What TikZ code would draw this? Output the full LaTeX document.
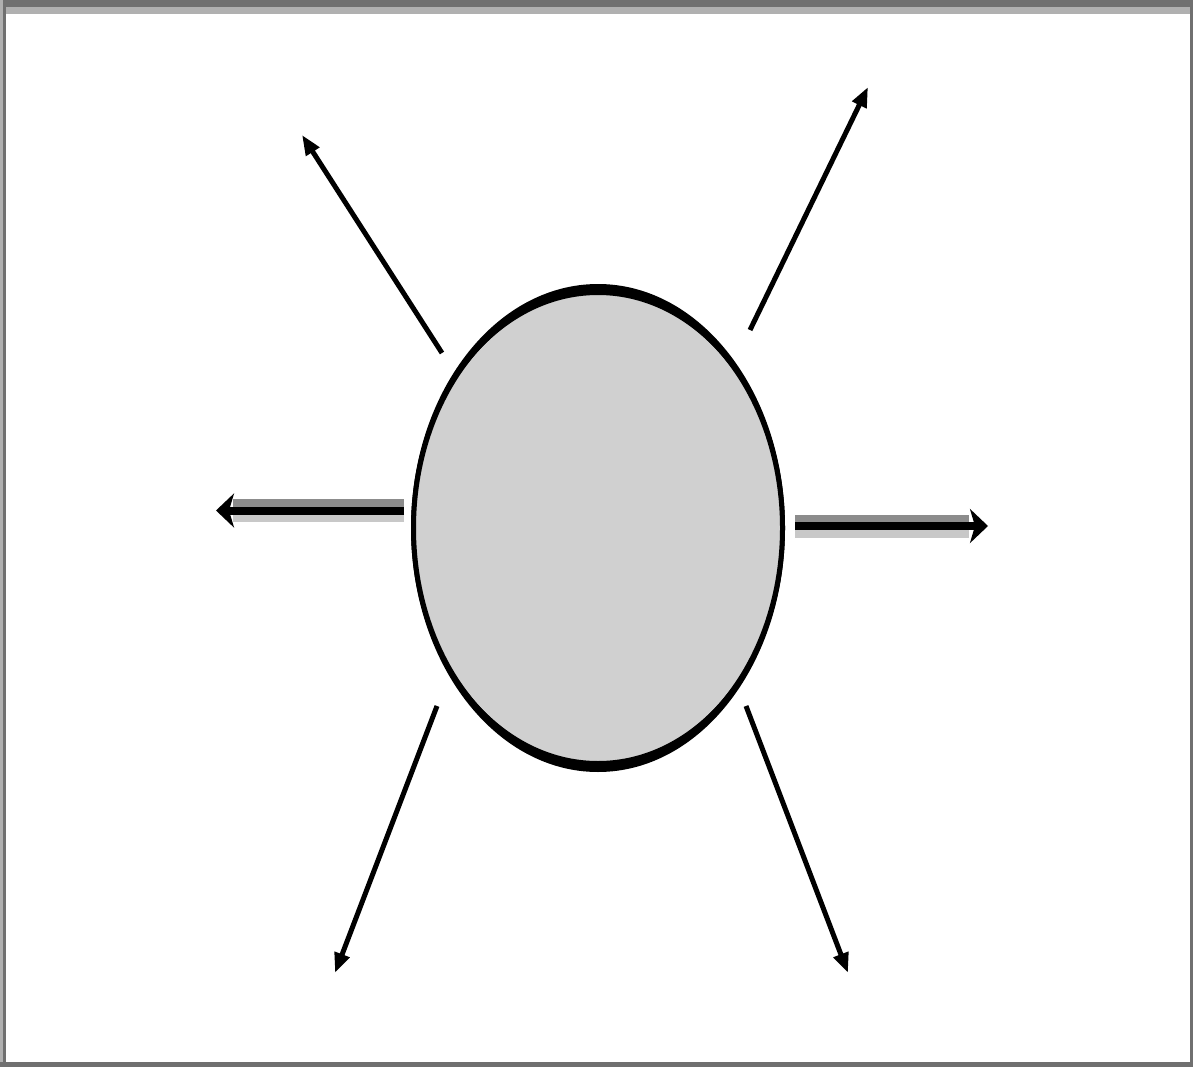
\documentclass[tikz,border=0pt]{standalone}
\usetikzlibrary{shapes.geometric,arrows.meta}
\definecolor{framedark}{HTML}{707070}
\definecolor{framelight}{HTML}{B0B0B0}
\definecolor{bodygray}{HTML}{D0D0D0}
\definecolor{shadowup}{HTML}{8C8C8C}
\definecolor{shadowdown}{HTML}{C8C8C8}
\tikzset{
  diag/.style={line width=5pt,-{Triangle[length=20pt,width=15pt]}},
  horiz/.style={line width=8pt,-{Stealth[length=18pt,width=34pt,inset=5pt]}},
  bandup/.style={draw=shadowup,line width=8pt},
  banddown/.style={draw=shadowdown,line width=8pt},
  body/.style={ellipse,draw=black,fill=bodygray,line width=5pt,minimum width=369pt,minimum height=475pt,inner sep=0pt}
}
\begin{document}
\begin{tikzpicture}[x=1pt,y=-1pt]
\useasboundingbox (0,0) rectangle (1193,1067);
\fill[white] (0,0) rectangle (1193,1067);
% frame
\fill[framedark] (0,0) rectangle (1193,7);
\fill[framelight] (0,7) rectangle (1193,14);
\fill[framelight] (0,0) rectangle (3,1067);
\fill[framedark] (3,7) rectangle (6,1067);
\fill[framedark] (1190,0) rectangle (1193,1067);
\fill[framedark] (0,1062) rectangle (1193,1067);
% body
\node[body] (e) at (598,528) {};
\fill[black,even odd rule] (e.center) ellipse (187 and 244) (e.center) ellipse (184 and 233);
% coordinates
\coordinate (ulS) at (442,353); \coordinate (ulT) at (302,135);
\coordinate (urS) at (750,330); \coordinate (urT) at (868,87);
\coordinate (llS) at (437,706); \coordinate (llT) at (335,973);
\coordinate (lrS) at (746,706); \coordinate (lrT) at (848,973);
\coordinate (lS) at (404,510.5); \coordinate (lT) at (216,510.5);
\coordinate (rS) at (795,526); \coordinate (rT) at (988,526);
\coordinate (lU1) at (404,503); \coordinate (lU2) at (233,503);
\coordinate (lD1) at (404,518); \coordinate (lD2) at (233,518);
\coordinate (rU1) at (795,518.5); \coordinate (rU2) at (969,518.5);
\coordinate (rD1) at (795,533.5); \coordinate (rD2) at (969,533.5);
% diagonal arrows
\draw[diag] (ulS) -- (ulT);
\draw[diag] (urS) -- (urT);
\draw[diag] (llS) -- (llT);
\draw[diag] (lrS) -- (lrT);
% horizontal arrows with shading bands
\draw[bandup] (lU1) -- (lU2);
\draw[banddown] (lD1) -- (lD2);
\draw[horiz] (lS) -- (lT);
\draw[bandup] (rU1) -- (rU2);
\draw[banddown] (rD1) -- (rD2);
\draw[horiz] (rS) -- (rT);
\end{tikzpicture}
\end{document}
